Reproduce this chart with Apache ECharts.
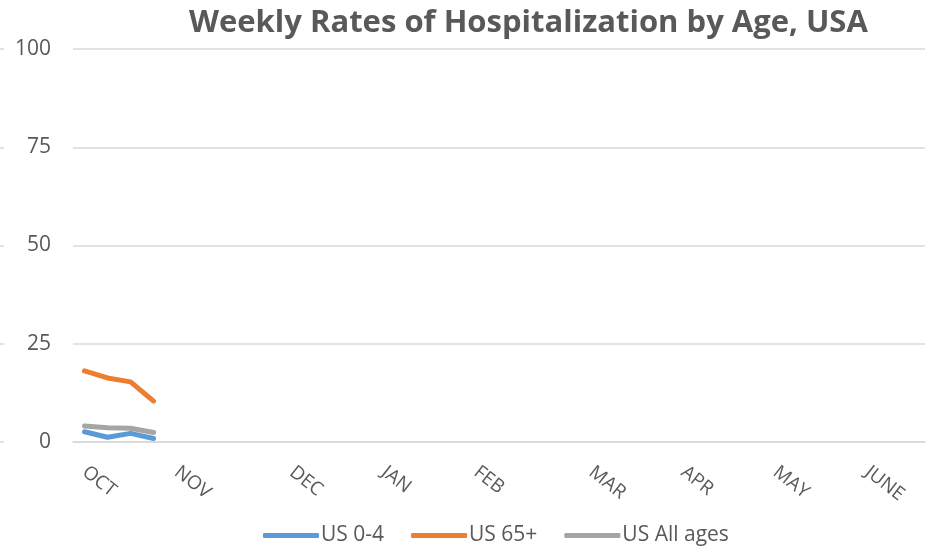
<!DOCTYPE html>
<html>
<head>
<meta charset="utf-8">
<script src="https://cdn.jsdelivr.net/npm/echarts@6/dist/echarts.min.js"></script>
<style>html,body{margin:0;padding:0;background:#fff}#c{width:934px;height:546px}</style>
</head>
<body>
<div id="c"></div>
<script>
// 37 weekly categories, Oct through June; month labels at first week of each month
const weekCount = 37;
const monthLabels = ['OCT','NOV','DEC','JAN','FEB','MAR','APR','MAY','JUNE'];
const monthWeekIndex = [0,4,9,13,17,22,26,30,34];
const us04 = [2.6, 1.2, 2.2, 0.9];
const us65 = [18.1, 16.3, 15.3, 10.4];
const usAll = [4.1, 3.6, 3.5, 2.4];
const yTicks = [0,25,50,75,100];

const categories = [];
for (let i = 0; i < weekCount; i++) {
  const k = monthWeekIndex.indexOf(i);
  categories.push(k >= 0 ? monthLabels[k] : 'w' + i);
}
const font = '"Open Sans", "Noto Sans", sans-serif';
const chart = echarts.init(document.getElementById('c'), null, {renderer:'canvas'});
chart.setOption({
  animation:false,
  title:{text:'Weekly Rates of Hospitalization by Age, USA', left:184, top:3,
    textStyle:{fontFamily:font, fontWeight:'bold', fontSize:31, color:'#595959'}},
  grid:[{left:73, right:9, top:49, bottom:104},{left:0, width:4, top:49, bottom:104}],
  legend:{top:520, left:258, itemWidth:56, itemHeight:5, itemGap:27, icon:'roundRect',
    textStyle:{fontFamily:font, fontSize:21, color:'#595959', padding:[0,0,0,-3]},
    data:['US 0-4','US 65+','US All ages']},
  xAxis:[{type:'category', data:categories, boundaryGap:true,
    axisLine:{lineStyle:{color:'#D9D9D9', width:1.5}}, axisTick:{show:false},
    axisLabel:{interval:(i)=>monthWeekIndex.indexOf(i)>=0, rotate:-38, margin:28,
      fontFamily:font, fontSize:19, color:'#595959'}},
    {gridIndex:1, type:'category', data:['a'], show:false}],
  yAxis:[{type:'value', min:yTicks[0], max:yTicks[yTicks.length-1], interval:25,
    axisLine:{show:false}, axisTick:{show:false},
    splitLine:{lineStyle:{color:'#D9D9D9', width:1.5}},
    axisLabel:{margin:22, fontFamily:font, fontSize:21, color:'#595959'}},
    {gridIndex:1, type:'value', min:yTicks[0], max:yTicks[yTicks.length-1], interval:25,
    axisLine:{show:false}, axisTick:{show:false}, axisLabel:{show:false},
    splitLine:{lineStyle:{color:'#D9D9D9', width:1.5}}}],
  series:[
    {name:'US 0-4', type:'line', data:us04, symbol:'none', lineStyle:{width:5, color:'#5B9BD5', cap:'round', join:'round'}, itemStyle:{color:'#5B9BD5'}},
    {name:'US 65+', type:'line', data:us65, symbol:'none', lineStyle:{width:5, color:'#ED7D31', cap:'round', join:'round'}, itemStyle:{color:'#ED7D31'}},
    {name:'US All ages', type:'line', data:usAll, symbol:'none', z:1, lineStyle:{width:5, color:'#A5A5A5', cap:'round', join:'round'}, itemStyle:{color:'#A5A5A5'}}
  ]
});
</script>
</body>
</html>
